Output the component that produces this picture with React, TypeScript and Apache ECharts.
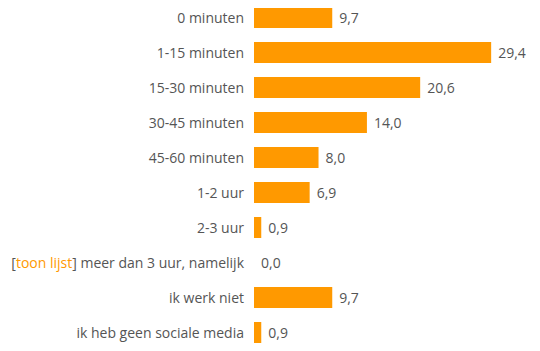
import React, { useEffect, useRef } from "react";
import * as echarts from "echarts";

const categories = [
  "0 minuten",
  "1-15 minuten",
  "15-30 minuten",
  "30-45 minuten",
  "45-60 minuten",
  "1-2 uur",
  "2-3 uur",
  "[toon lijst] meer dan 3 uur, namelijk",
  "ik werk niet",
  "ik heb geen sociale media",
];
const values = [9.7, 29.4, 20.6, 14.0, 8.0, 6.9, 0.9, 0.0, 9.7, 0.9];

const FONT = "'Open Sans', sans-serif";
const TEXT = "#555555";
const ORANGE = "#FF9900";

export default function App() {
  const ref = useRef<HTMLDivElement>(null);
  useEffect(() => {
    if (!ref.current) return;
    const chart = echarts.init(ref.current, null, { renderer: "svg" });
    chart.setOption({
      animation: false,
      grid: { left: 254, right: 44, top: 0, bottom: 1, containLabel: false },
      xAxis: {
        type: "value",
        min: 0,
        max: 30,
        show: false,
      },
      yAxis: {
        type: "category",
        inverse: true,
        data: categories,
        axisLine: { show: false },
        axisTick: { show: false },
        splitLine: { show: false },
        axisLabel: {
          margin: 10,
          fontFamily: FONT,
          fontSize: 14,
          color: TEXT,
          formatter: (v: string) => {
            const m = v.match(/^\[(.*?)\](.*)$/);
            if (m) return `{b|[}{o|${m[1]}}{b|]${m[2]}}`;
            return `{b|${v}}`;
          },
          rich: {
            b: { fontFamily: FONT, fontSize: 14, color: TEXT },
            o: { fontFamily: FONT, fontSize: 14, color: ORANGE },
          },
        },
      },
      series: [
        {
          type: "bar",
          data: values,
          barWidth: 21,
          itemStyle: { color: ORANGE },
          label: {
            show: true,
            position: "right",
            distance: 7,
            fontFamily: FONT,
            fontSize: 14,
            color: TEXT,
            formatter: (p: any) => Number(p.value).toFixed(1).replace(".", ","),
          },
        },
      ],
    });
    return () => chart.dispose();
  }, []);
  return <div ref={ref} style={{ width: 540, height: 351, margin: -8 }} />;
}
